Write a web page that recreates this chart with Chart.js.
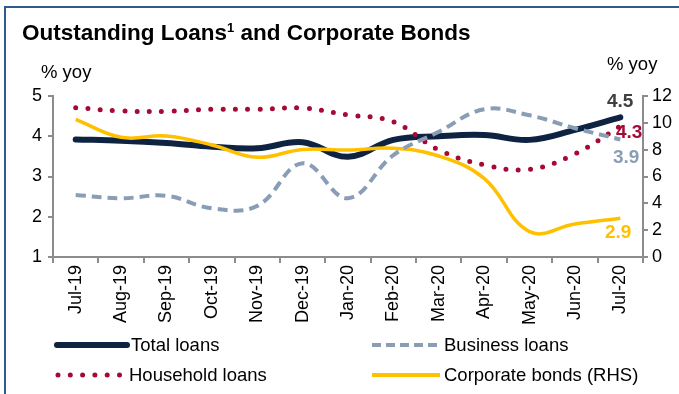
<!DOCTYPE html>
<html>
<head>
<meta charset="utf-8">
<script src="https://cdn.jsdelivr.net/npm/chart.js@4.4.1/dist/chart.umd.min.js"></script>
<style>
  html, body { margin: 0; padding: 0; background: #fff; }
  #wrap { position: relative; width: 679px; height: 394px; overflow: hidden; font-family: "Liberation Sans", Arial, sans-serif; }
  #frame { position: absolute; left: 4px; top: 6px; width: 700px; height: 400px; border-left: 2px solid #2E5B8C; border-top: 2px solid #2E5B8C; }
  #title { position: absolute; left: 22px; top: 19px; font-size: 22.5px; font-weight: bold; color: #000; white-space: nowrap; line-height: 28px; }
  #title sup { font-size: 13px; vertical-align: 8px; line-height: 0; }
  .unit { position: absolute; font-size: 18.5px; color: #000; line-height: 22px; }
  canvas { position: absolute; left: 0; top: 0; }
</style>
</head>
<body>
<div id="wrap">
  <div id="frame"></div>
  <canvas id="chart" width="679" height="394"></canvas>
  <div id="title">Outstanding Loans<sup>1</sup> and Corporate Bonds</div>
  <div class="unit" style="left:41px;top:61px;">% yoy</div>
  <div class="unit" style="left:607px;top:53px;">% yoy</div>
</div>
<script>
const months = ['Jul-19', 'Aug-19', 'Sep-19', 'Oct-19', 'Nov-19', 'Dec-19', 'Jan-20',
                'Feb-20', 'Mar-20', 'Apr-20', 'May-20', 'Jun-20', 'Jul-20'];
const totalLoans = [3.92, 3.89, 3.83, 3.74, 3.70, 3.85, 3.49, 3.91, 4.00, 4.03, 3.91, 4.16, 4.47];
const businessLoans = [2.54, 2.46, 2.52, 2.21, 2.27, 3.33, 2.46, 3.53, 4.11, 4.67, 4.52, 4.20, 3.92];
const householdLoans = [4.71, 4.63, 4.62, 4.67, 4.67, 4.70, 4.53, 4.36, 3.66, 3.29, 3.18, 3.56, 4.25];
const corporateBonds = [10.26, 8.92, 9.02, 8.35, 7.43, 8.02, 7.97, 8.10, 7.53, 5.86, 1.89, 2.46, 2.88];

const navy = '#0E2341';
const grey = '#8A9DB6';
const red = '#A50A35';
const gold = '#FFC000';
const axisGrey = '#8C8C8C';
const font = '"Liberation Sans", Arial, sans-serif';

const endLabels = [
  { text: '4.5', color: '#404040', x: 607, y: 102 },
  { text: '4.3', color: red, x: 616, y: 133 },
  { text: '3.9', color: grey, x: 613, y: 158 },
  { text: '2.9', color: gold, x: 605, y: 233 }
];

const legendItems = [
  { text: 'Total loans', color: navy, width: 6, dash: [], cap: 'round', x: 57, x2: 127, y: 345 },
  { text: 'Business loans', color: grey, width: 4, dash: [9, 5], cap: 'butt', x: 372, x2: 440, y: 345 },
  { text: 'Household loans', color: red, width: 5, dash: [0, 12.3], cap: 'round', x: 58, x2: 125, y: 375 },
  { text: 'Corporate bonds (RHS)', color: gold, width: 4, dash: [], cap: 'butt', x: 372, x2: 440, y: 375 }
];

const extras = {
  id: 'extras',
  afterDraw(chart) {
    const ctx = chart.ctx;
    ctx.save();
    ctx.textBaseline = 'middle';
    ctx.font = 'bold 19px ' + font;
    endLabels.forEach(l => {
      ctx.fillStyle = l.color;
      ctx.fillText(l.text, l.x, l.y);
    });
    ctx.font = '18.5px ' + font;
    legendItems.forEach(it => {
      ctx.beginPath();
      ctx.strokeStyle = it.color;
      ctx.lineWidth = it.width;
      ctx.lineCap = it.cap;
      ctx.setLineDash(it.dash);
      ctx.moveTo(it.x, it.y);
      ctx.lineTo(it.x2, it.y);
      ctx.stroke();
      ctx.setLineDash([]);
      ctx.fillStyle = '#000';
      ctx.fillText(it.text, it.x2 + 4, it.y + 1);
    });
    ctx.restore();
  }
};

new Chart(document.getElementById('chart'), {
  type: 'line',
  data: {
    labels: months,
    datasets: [
      {
        label: 'Business loans', data: businessLoans, yAxisID: 'y',
        borderColor: grey, borderWidth: 4, borderDash: [10, 6], tension: 0.4
      },
      {
        label: 'Corporate bonds (RHS)', data: corporateBonds, yAxisID: 'y1',
        borderColor: gold, borderWidth: 3.5, tension: 0.4
      },
      {
        label: 'Household loans', data: householdLoans, yAxisID: 'y',
        borderColor: red, borderWidth: 5, borderDash: [0, 12.3], borderCapStyle: 'round', tension: 0.4
      },
      {
        label: 'Total loans', data: totalLoans, yAxisID: 'y',
        borderColor: navy, borderWidth: 6, borderCapStyle: 'round', tension: 0.4
      }
    ]
  },
  options: {
    responsive: false,
    animation: false,
    elements: { point: { radius: 0, hoverRadius: 0 } },
    layout: { padding: { top: 96, right: 0, left: 0, bottom: 0 } },
    plugins: { legend: { display: false }, tooltip: { enabled: false } },
    scales: {
      x: {
        offset: true,
        grid: { offset: true, drawOnChartArea: false, tickLength: 6, color: axisGrey, lineWidth: 2 },
        border: { color: axisGrey, width: 2 },
        ticks: { color: '#000', font: { family: font, size: 18 }, minRotation: 90, maxRotation: 90, padding: 2, autoSkip: false },
        afterFit(scale) { scale.height = 137; }
      },
      y: {
        position: 'left', min: 1, max: 5,
        ticks: { stepSize: 1, color: '#000', font: { family: font, size: 18 }, padding: 6 },
        grid: { drawOnChartArea: false, tickLength: 5, color: axisGrey, lineWidth: 2 },
        border: { color: axisGrey, width: 2 },
        afterFit(scale) { scale.width = 53; }
      },
      y1: {
        position: 'right', min: 0, max: 12,
        ticks: { stepSize: 2, color: '#000', font: { family: font, size: 18 }, padding: 4 },
        grid: { drawOnChartArea: false, tickLength: 5, color: axisGrey, lineWidth: 2 },
        border: { color: axisGrey, width: 2 },
        afterFit(scale) { scale.width = 36; }
      }
    }
  },
  plugins: [extras]
});
</script>
</body>
</html>
